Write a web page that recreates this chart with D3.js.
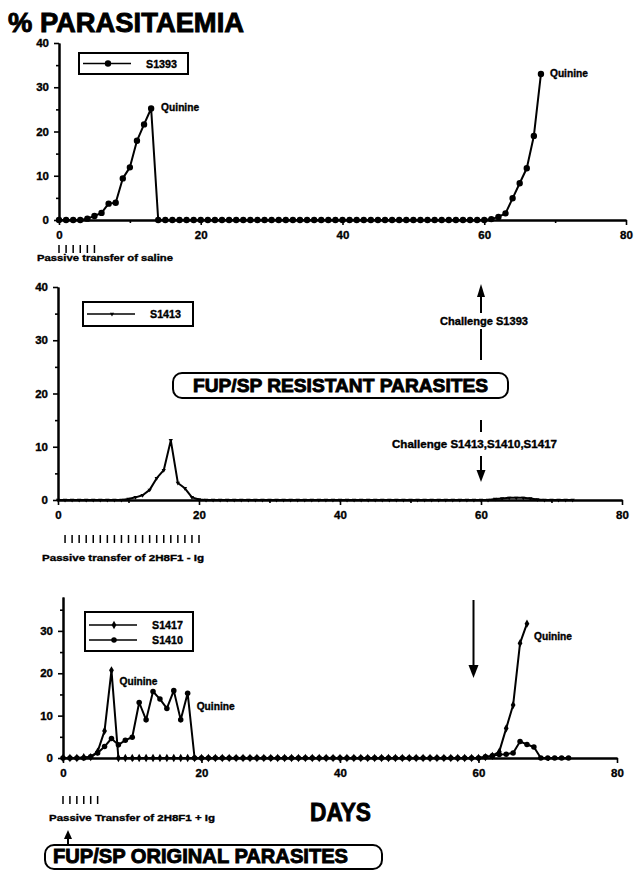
<!DOCTYPE html>
<html>
<head>
<meta charset="utf-8">
<script src="https://cdn.jsdelivr.net/npm/d3@7"></script>
<style>
body { margin: 0; background: #fff; }
svg text { font-family: "Liberation Sans", Arial, Helvetica, sans-serif; font-weight: bold; fill: #000; stroke: #000; stroke-width: 0.35px; }
svg text.big { stroke-width: 0.9px; }
</style>
</head>
<body>
<div id="chart"></div>
<script>
///////////////////////////////////////////////////////////////////////////////
//// Data (% parasitaemia, one value per day starting at day 0) ///////////////
///////////////////////////////////////////////////////////////////////////////

const s1393 = [
	0, 0, 0, 0, 0.3, 0.9, 1.6, 3.7, 3.9, 9.4,          // 0-9
	11.9, 17.9, 21.6, 25.2, 0, 0, 0, 0, 0, 0,          // 10-19
	0, 0, 0, 0, 0, 0, 0, 0, 0, 0,                      // 20-29
	0, 0, 0, 0, 0, 0, 0, 0, 0, 0,                      // 30-39
	0, 0, 0, 0, 0, 0, 0, 0, 0, 0,                      // 40-49
	0, 0, 0, 0, 0, 0, 0, 0, 0, 0,                      // 50-59
	0, 0.2, 0.7, 1.5, 4.9, 8.3, 11.7, 19.0, 33.0       // 60-68
];

const s1413 = [
	0, 0, 0, 0, 0, 0, 0, 0, 0, 0,                      // 0-9
	0.2, 0.5, 0.9, 1.9, 4.1, 5.6, 11.2, 3.2, 2.2, 0.5, // 10-19
	0.1, 0, 0, 0, 0, 0, 0, 0, 0, 0,                    // 20-29
	0, 0, 0, 0, 0, 0, 0, 0, 0, 0,                      // 30-39
	0, 0, 0, 0, 0, 0, 0, 0, 0, 0,                      // 40-49
	0, 0, 0, 0, 0, 0, 0, 0, 0, 0,                      // 50-59
	0, 0, 0.2, 0.3, 0.4, 0.4, 0.4, 0.3, 0.1, 0,        // 60-69
	0, 0, 0, 0                                         // 70-73
];

const s1417 = [
	0, 0, 0, 0.2, 0.2, 1.5, 6.4, 20.7, 0, 0,           // 0-9
	0, 0, 0, 0, 0, 0, 0, 0, 0, 0,                      // 10-19
	0, 0, 0, 0, 0, 0, 0, 0, 0, 0,                      // 20-29
	0, 0, 0, 0, 0, 0, 0, 0, 0, 0,                      // 30-39
	0, 0, 0, 0, 0, 0, 0, 0, 0, 0,                      // 40-49
	0, 0, 0, 0, 0, 0, 0, 0, 0, 0,                      // 50-59
	0, 0.2, 0.5, 1.5, 7.0, 12.5, 27.1, 31.7            // 60-67
];

const s1410 = [
	0, 0, 0, 0, 0.3, 1.2, 2.7, 4.6, 3.1, 4.2,          // 0-9
	4.9, 13.1, 9.0, 15.7, 13.9, 11.7, 15.9, 9.0, 15.3, 0, // 10-19
	0, 0, 0, 0, 0, 0, 0, 0, 0, 0,                      // 20-29
	0, 0, 0, 0, 0, 0, 0, 0, 0, 0,                      // 30-39
	0, 0, 0, 0, 0, 0, 0, 0, 0, 0,                      // 40-49
	0, 0, 0, 0, 0, 0, 0, 0, 0, 0,                      // 50-59
	0, 0.3, 0.5, 0.8, 0.9, 1.2, 3.9, 3.2, 2.6, 0,      // 60-69
	0, 0, 0, 0                                         // 70-73
];

const xTicks = [0, 20, 40, 60, 80];
const xMinorTicks = [10, 30, 50, 70];
const yTicks = [0, 10, 20, 30, 40];
const yMinorTicks = [5, 15, 25, 35];

// Days of passive transfer
const salineDays = [0, 1, 2, 3, 4, 5];
const igDays = [1, 2, 3, 4, 5, 6, 7, 8, 9, 10, 11, 12, 13, 14, 15, 16, 17, 18, 19, 20];
const igPlusDays = [0, 1, 2, 3, 4, 5];
const challengeDay = 60;

///////////////////////////////////////////////////////////////////////////////
//// Set Up ///////////////////////////////////////////////////////////////////
///////////////////////////////////////////////////////////////////////////////

const width = 634,
			height = 870;

const svg = d3.select("#chart").append("svg")
		.attr("width", width)
		.attr("height", height);

const panels = [
	{ left: 59, right: 626, top: 43, bottom: 220, yMax: 40 },
	{ left: 58, right: 622, top: 287, bottom: 500, yMax: 40 },
	{ left: 63, right: 617, top: 597, bottom: 758, yMax: 38 }
];

panels.forEach(p => {
	p.x = d3.scaleLinear().domain([0, 80]).range([p.left, p.right]);
	p.y = d3.scaleLinear().domain([0, p.yMax]).range([p.bottom, p.top]);
});

const markers = {
	circle: d3.symbol().type(d3.symbolCircle).size(32)(),
	small: d3.symbol().type(d3.symbolTriangle).size(8)(),
	diamond: d3.symbol().type(d3.symbolDiamond).size(20)(),
	dot: d3.symbol().type(d3.symbolCircle).size(24)()
};

function label(txt, x, y, size, len, cls) {
	const t = svg.append("text")
			.attr("x", x)
			.attr("y", y)
			.attr("class", cls || null)
			.style("font-size", size + "px")
			.text(txt);
	if (len) t.attr("textLength", len).attr("lengthAdjust", "spacingAndGlyphs");
	return t;
}

///////////////////////////////////////////////////////////////////////////////
//// Axes /////////////////////////////////////////////////////////////////////
///////////////////////////////////////////////////////////////////////////////

panels.forEach(p => {
	const g = svg.append("g");
	const yt = yTicks.filter(t => t <= p.yMax);
	const ym = yMinorTicks.filter(t => t <= p.yMax);

	g.append("g")
			.attr("transform", `translate(${p.left},0)`)
			.call(d3.axisLeft(p.y).tickValues(ym).tickSize(3).tickSizeOuter(0).tickFormat(""));
	g.append("g")
			.attr("transform", `translate(${p.left},0)`)
			.call(d3.axisLeft(p.y).tickValues(yt).tickSize(5).tickSizeOuter(0).tickPadding(5));

	g.append("g")
			.attr("transform", `translate(0,${p.bottom})`)
			.call(d3.axisBottom(p.x).tickValues(xMinorTicks).tickSize(3).tickSizeOuter(0).tickFormat(""));
	g.append("g")
			.attr("transform", `translate(0,${p.bottom})`)
			.call(d3.axisBottom(p.x).tickValues(xTicks).tickSize(5).tickSizeOuter(0).tickPadding(6));

	g.selectAll(".domain").attr("stroke", "#000").attr("stroke-width", 2);
	g.selectAll(".tick line").attr("stroke", "#000").attr("stroke-width", 1.6);
	g.selectAll(".tick text")
			.attr("fill", "#000")
			.style("font-family", '"Liberation Sans", Arial, sans-serif')
			.style("font-weight", "bold")
			.style("font-size", "11.5px");
});

///////////////////////////////////////////////////////////////////////////////
//// Series ///////////////////////////////////////////////////////////////////
///////////////////////////////////////////////////////////////////////////////

function drawSeries(p, values, marker, rotate) {
	const line = d3.line()
			.x((d, i) => p.x(i))
			.y(d => p.y(d));
	svg.append("path")
			.datum(values)
			.attr("d", line)
			.attr("fill", "none")
			.attr("stroke", "#000")
			.attr("stroke-width", 2)
			.attr("stroke-linejoin", "round");
	svg.append("g").selectAll("path")
		.data(values)
		.enter().append("path")
			.attr("d", markers[marker])
			.attr("fill", "#000")
			.attr("transform", (d, i) => `translate(${p.x(i)},${p.y(d)})` + (rotate ? " rotate(180)" : ""));
}

drawSeries(panels[0], s1393, "circle");
drawSeries(panels[1], s1413, "small", true);
drawSeries(panels[2], s1410, "dot");
drawSeries(panels[2], s1417, "diamond");

// Quinine treatment labels
function quinine(p, values, day, dx, dy) {
	label("Quinine", p.x(day) + dx, p.y(values[day]) + dy, 10, 38);
}
quinine(panels[0], s1393, 13, 10, 3);
quinine(panels[0], s1393, 68, 9, 3);
quinine(panels[2], s1417, 7, 8, 15);
quinine(panels[2], s1410, 18, 9, 17);
quinine(panels[2], s1417, 67, 7, 16);

///////////////////////////////////////////////////////////////////////////////
//// Legends //////////////////////////////////////////////////////////////////
///////////////////////////////////////////////////////////////////////////////

function legend(x, y, w, h, rows) {
	svg.append("rect")
			.attr("x", x).attr("y", y)
			.attr("width", w).attr("height", h)
			.attr("fill", "#fff")
			.attr("stroke", "#000")
			.attr("stroke-width", 2);
	rows.forEach((r, i) => {
		const ry = y + (rows.length === 1 ? h / 2 : 13 + i * 15);
		svg.append("line")
				.attr("x1", x + 4).attr("x2", x + 52)
				.attr("y1", ry).attr("y2", ry)
				.attr("stroke", "#000").attr("stroke-width", 1.6);
		svg.append("path")
				.attr("d", markers[r.marker])
				.attr("transform", `translate(${x + 29},${ry})` + (r.marker === "small" ? " rotate(180)" : ""));
		label(r.name, x + 67, ry + 4, 10.5, 31);
	});
}

legend(79, 53, 109, 21, [{ name: "S1393", marker: "circle" }]);
legend(83, 302, 110, 24, [{ name: "S1413", marker: "small" }]);
legend(85, 612, 108, 39, [{ name: "S1417", marker: "diamond" }, { name: "S1410", marker: "dot" }]);

///////////////////////////////////////////////////////////////////////////////
//// Annotations //////////////////////////////////////////////////////////////
///////////////////////////////////////////////////////////////////////////////

label("% PARASITAEMIA", 8, 32, 27, 236, "big");

function transferTicks(p, days, y0, y1) {
	svg.append("g").selectAll("line")
		.data(days)
		.enter().append("line")
			.attr("x1", d => p.x(d)).attr("x2", d => p.x(d))
			.attr("y1", y0).attr("y2", y1)
			.attr("stroke", "#000").attr("stroke-width", 1.5);
}

transferTicks(panels[0], salineDays, 245, 253);
label("Passive transfer of saline", 37, 261, 9.5, 136);

transferTicks(panels[1], igDays, 535, 543);
label("Passive transfer of 2H8F1 - Ig", 42, 561, 9.5, 162);

transferTicks(panels[2], igPlusDays, 796, 804);
label("Passive Transfer of 2H8F1 + Ig", 49, 821, 9.5, 166);

label("DAYS", 310, 821, 25, 61, "big");

function vline(x, y0, y1) {
	svg.append("line")
			.attr("x1", x).attr("x2", x)
			.attr("y1", y0).attr("y2", y1)
			.attr("stroke", "#000").attr("stroke-width", 2);
}
function head(x, tip, dir, len, half) {
	const b = tip + dir * len;
	svg.append("path")
			.attr("d", `M${x},${tip}L${x - half},${b}L${x + half},${b}Z`)
			.attr("fill", "#000");
}

// Challenge arrows
const cx = panels[1].x(challengeDay);
head(cx, 284, 1, 13, 4);
vline(cx, 295, 313);
vline(cx, 329, 360);
label("Challenge S1393", 440, 325, 10, 88);

vline(cx, 420, 432);
label("Challenge  S1413,S1410,S1417", 392, 448, 10, 165);
vline(cx, 456, 472);
head(cx, 482, -1, 12, 4.5);

const bx = panels[2].x(challengeDay) - 5;
vline(bx, 600, 667);
head(bx, 678, -1, 13, 5);

head(68, 830, 1, 9, 4);
vline(68, 836, 845);

// Boxed labels
function box(x, y, w, h, txt, size, tx, len) {
	svg.append("rect")
			.attr("x", x).attr("y", y)
			.attr("width", w).attr("height", h)
			.attr("rx", 9).attr("ry", 9)
			.attr("fill", "#fff")
			.attr("stroke", "#000")
			.attr("stroke-width", 2);
	label(txt, tx, y + h - 6, size, len, "big");
}
box(173, 373, 335, 25, "FUP/SP RESISTANT PARASITES", 19, 193, 295);
box(45, 845, 337, 24, "FUP/SP ORIGINAL PARASITES", 20, 53, 295);
</script>
</body>
</html>
